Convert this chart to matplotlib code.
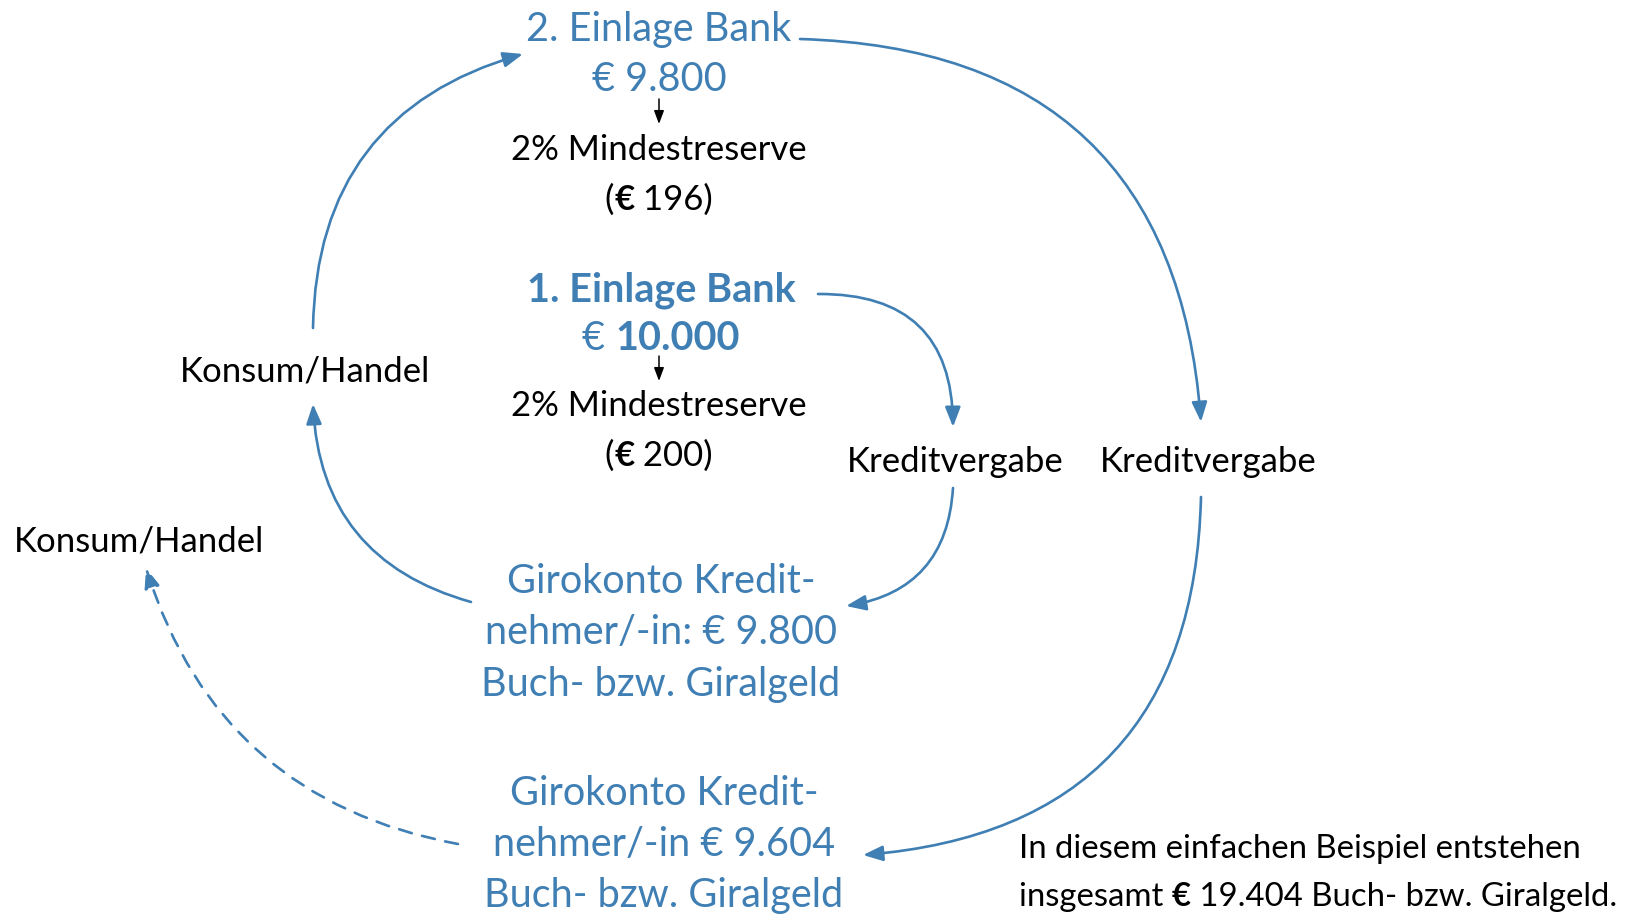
import matplotlib
matplotlib.use("Agg")
import matplotlib.pyplot as plt
from matplotlib.patches import FancyArrowPatch

plt.rcParams['font.family'] = ['Lato', 'DejaVu Sans']

BLUE = '#3f7fb4'
BLACK = '#000000'

# ---- texts (content) ----
bank2_title = "2. Einlage Bank"
bank2_amount = "€ 9.800"
reserve_label = "2% Mindestreserve"
bank2_reserve = [("(", "normal"), ("€", "bold"), (" 196)", "normal")]
bank1_title = "1. Einlage Bank"
bank1_amount = [("€ ", "normal"), ("10.000", "bold")]
bank1_reserve = [("(", "normal"), ("€", "bold"), (" 200)", "normal")]
credit_label = "Kreditvergabe"
consume_label = "Konsum/Handel"
giro1_lines = ["Girokonto Kredit-", "nehmer/-in: € 9.800", "Buch- bzw. Giralgeld"]
giro2_lines = ["Girokonto Kredit-", "nehmer/-in € 9.604", "Buch- bzw. Giralgeld"]
note_line1 = [("In diesem einfachen Beispiel entstehen", "normal")]
note_line2 = [("insgesamt ", "normal"), ("€", "bold"),
              (" 19.404 Buch- bzw. Giralgeld.", "normal")]

W, H = 1634, 914
fig = plt.figure(figsize=(W / 100, H / 100), dpi=100)
ax = fig.add_axes([0, 0, 1, 1])
ax.set_xlim(0, W)
ax.set_ylim(H, 0)
ax.axis('off')
renderer = fig.canvas.get_renderer()

FS_B = 28.5   # blue
FS_K = 25     # black
DY = 3.5

def t(x, y, s, color=BLACK, size=FS_K, weight='normal', ha='center'):
    return ax.text(x, y + DY, s, color=color, fontsize=size, fontweight=weight,
                   ha=ha, va='center')

def seg(x, y, parts, color=BLACK, size=FS_K, ha='center'):
    # measure total width with a single advance-based approach
    objs = []
    widths = []
    for s, w in parts:
        tmp = ax.text(0, 0, s.replace(" ", "\u00a0"), fontsize=size, fontweight=w)
        bb = tmp.get_window_extent(renderer)
        widths.append(bb.width)
        tmp.remove()
    total = sum(widths)
    x0 = x - total / 2 if ha == 'center' else x
    for (s, w), wd in zip(parts, widths):
        objs.append(t(x0, y, s.replace(" ", "\u00a0"), color, size, w, ha='left'))
        x0 += wd
    return objs

# bank 2 block
t(659, 26, bank2_title, BLUE, FS_B)
t(659, 76, bank2_amount, BLUE, FS_B)
t(659, 147, reserve_label)
seg(659, 196, bank2_reserve)

# bank 1 block
t(661, 287, bank1_title, BLUE, FS_B, 'bold')
seg(661, 335, bank1_amount, BLUE, FS_B)
t(659, 403, reserve_label)
seg(659, 452, bank1_reserve)

# side labels
t(955, 459, credit_label)
t(1208, 459, credit_label)
t(305, 368, consume_label)
t(139, 538, consume_label)

# giro blocks
for i, s in enumerate(giro1_lines):
    t(661, 578 + i * 51.5, s, BLUE, FS_B)
for i, s in enumerate(giro2_lines):
    t(664, 790 + i * 51, s, BLUE, FS_B)

# note
seg(1019, 846, note_line1, size=23.7, ha='left')
seg(1019, 893, note_line2, size=23.7, ha='left')

# ---- arrows ----
def arr(p0, p1, rad, ls='-', color=BLUE, lw=1.9, hl=0.85, hw=0.33, ms=14):
    a = FancyArrowPatch(p0, p1, connectionstyle=f"arc3,rad={rad}",
                        arrowstyle=f"-|>,head_length={hl},head_width={hw}",
                        mutation_scale=ms, color=color, lw=lw,
                        linestyle=ls, shrinkA=0, shrinkB=0)
    ax.add_patch(a)

arr((818, 294), (953, 427), -0.5)
arr((953, 488), (846, 606), -0.4)
arr((471, 602), (313, 404), -0.36)
arr((313, 328), (523, 54), -0.37)
arr((800, 39), (1201, 422), -0.45)
arr((1201, 497), (863, 855), -0.45)
arr((458, 844), (146, 568), -0.3, ls=(0, (5, 4)))

# small black arrows
arr((659, 99), (659, 124), 0, color=BLACK, lw=1.1, hl=0.8, hw=0.3, ms=10)
arr((659, 356), (659, 381), 0, color=BLACK, lw=1.1, hl=0.8, hw=0.3, ms=10)

fig.savefig("out.png", dpi=100)
